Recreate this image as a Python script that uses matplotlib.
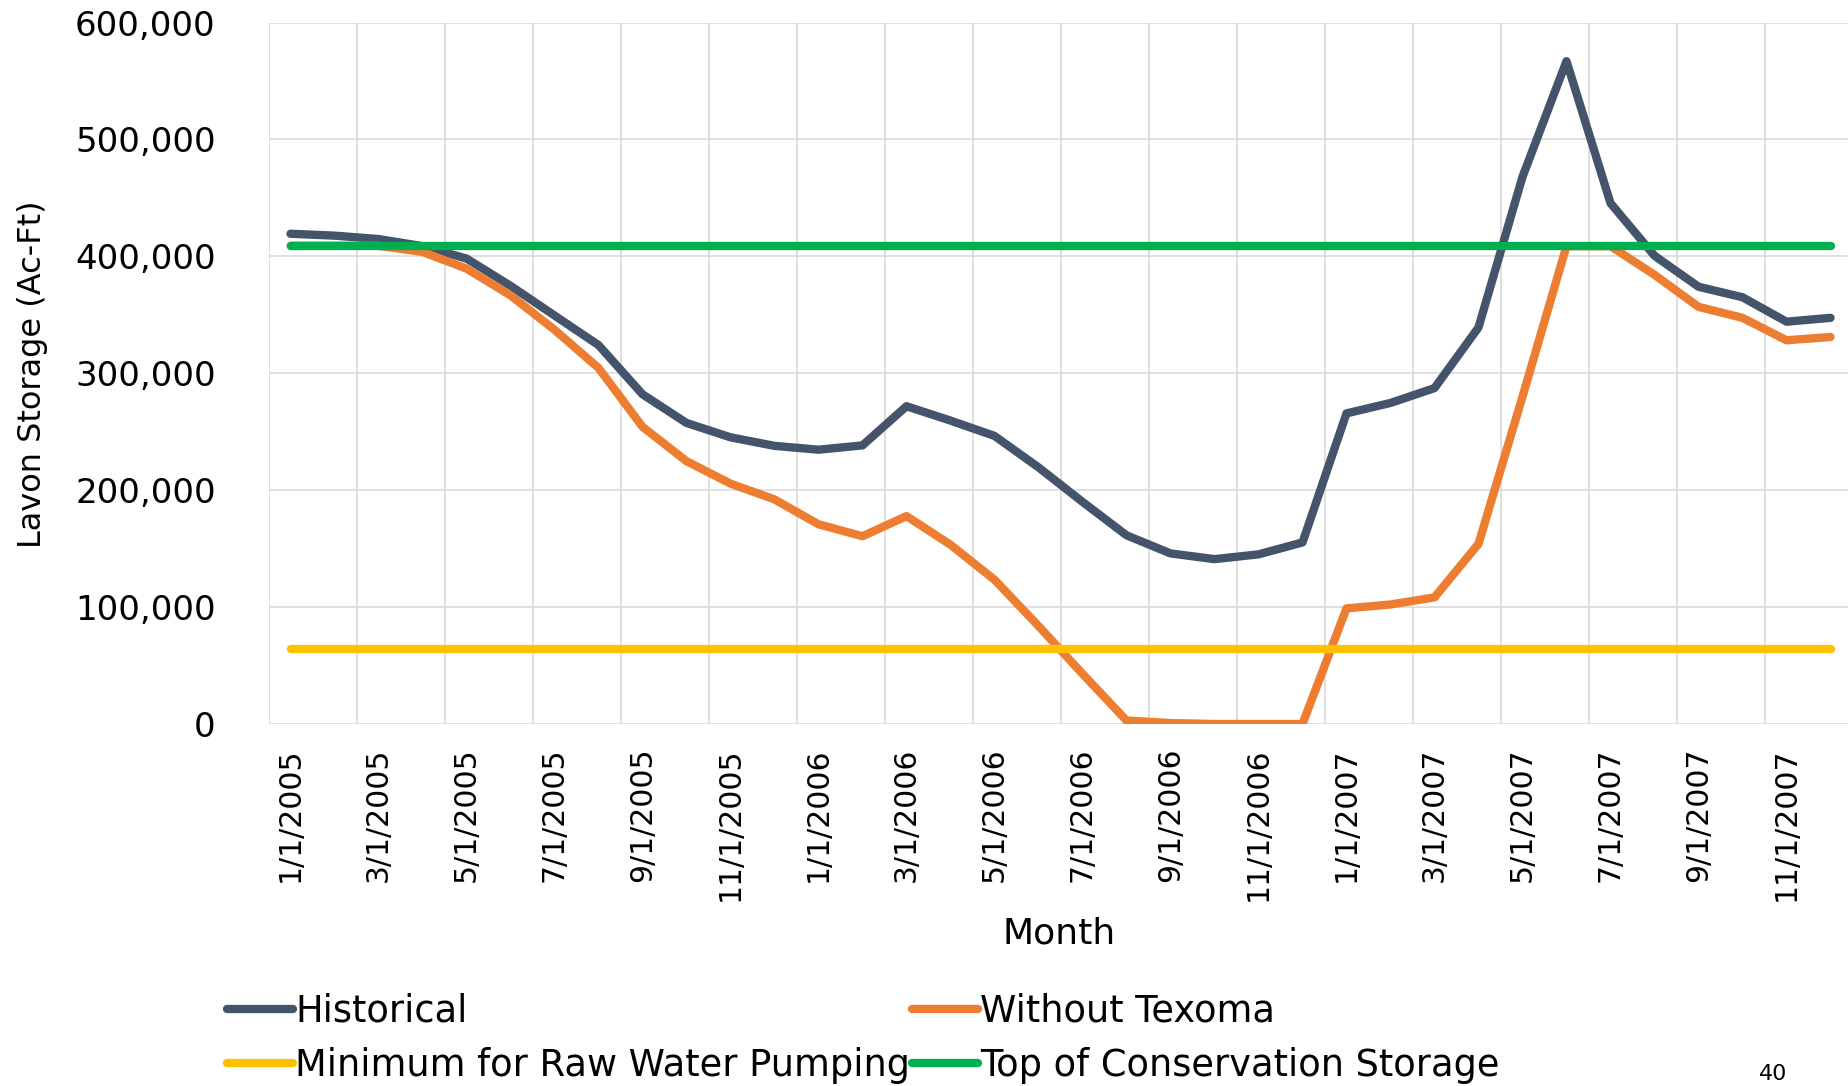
import matplotlib
matplotlib.use('Agg')
import matplotlib.pyplot as plt
from matplotlib.ticker import FuncFormatter, FixedLocator

# monthly storage, ac-ft
months = ['%d/1/%d' % (m, y) for y in (2005, 2006, 2007) for m in range(1, 13)]
historical = [419300, 417700, 414800, 408700, 398100, 374800, 349400, 324100, 282000,
              257500, 245200, 237900, 234600, 238300, 271800, 259500, 246400, 219500,
              190000, 161400, 145900, 141000, 145100, 155300, 265700, 274600, 287300,
              339200, 468000, 566900, 445500, 400500, 374000, 365000, 344100, 347400]
without_texoma = [409100, 409100, 409000, 403800, 389500, 366600, 337200, 304500, 254200,
                  224800, 205600, 192100, 170800, 160600, 177800, 153300, 123400, 83800,
                  42900, 3000, 800, 0, 0, 0, 98900, 102200, 108300,
                  154100, 280000, 408700, 408700, 384200, 356800, 347400, 328200, 331000]
min_pumping = [64200] * 36
top_conservation = [409100] * 36

W, H = 1849, 1086
fig = plt.figure(figsize=(W / 100, H / 100), dpi=100)
ax = fig.add_axes([268.5 / W, 1 - 724 / H, (1852.5 - 268.5) / W, (724 - 22.5) / H])

x = list(range(len(months)))
lw = 6
style = dict(linewidth=lw, solid_capstyle='round', solid_joinstyle='round')
ax.plot(x, historical, color='#44546A', label='Historical', zorder=3, **style)
ax.plot(x, without_texoma, color='#ED7D31', label='Without Texoma', zorder=4, **style)
ax.plot(x, min_pumping, color='#FFC000', label='Minimum for Raw Water Pumping', zorder=5, **style)
ax.plot(x, top_conservation, color='#00B050', label='Top of Conservation Storage', zorder=6, **style)

ax.set_xlim(-0.5, len(months) - 0.5)
ax.set_ylim(0, 600000)
ax.set_yticks(range(0, 600001, 100000))
ax.yaxis.set_major_formatter(FuncFormatter(lambda v, p: '{:,}'.format(int(v))))
ax.set_xticks(x[::2])
ax.set_xticklabels(months[::2], rotation=90, va='top', ha='center')
ax.xaxis.set_minor_locator(FixedLocator([i - 0.5 for i in range(0, len(months), 2)]))

ax.grid(axis='y', which='major', color='#D9D9D9', linewidth=1.2, zorder=0)
ax.grid(axis='x', which='minor', color='#D9D9D9', linewidth=1.2, zorder=0)
ax.set_axisbelow(True)
for s in ax.spines.values():
    s.set_visible(False)
ax.tick_params(axis='both', which='both', length=0)
ax.tick_params(axis='x', labelsize=21.5, pad=17)
ax.tick_params(axis='y', labelsize=24.5, pad=38)
for t in ax.get_yticklabels():
    t.set_verticalalignment('center_baseline')

fig.text(33 / W, 1 - 374 / H, 'Lavon Storage (Ac-Ft)', rotation=90, ha='center', va='center', fontsize=23)
fig.text(1059 / W, 1 - 933 / H, 'Month', ha='center', va='center', fontsize=26)

hs, ls = ax.get_legend_handles_labels()
order = [0, 2, 1, 3]
fig.legend([hs[i] for i in order], [ls[i] for i in order], ncol=2, frameon=False,
           loc='upper left', bbox_to_anchor=(227 / W, 1 - 993 / H),
           bbox_transform=fig.transFigure, fontsize=26.5, handlelength=1.8,
           handletextpad=0.05, columnspacing=0.05, labelspacing=0.45,
           borderpad=0, borderaxespad=0)

fig.text(1773 / W, 1 - 1084 / H, '40', ha='center', va='bottom', fontsize=16)

plt.savefig('out.png', dpi=100)
